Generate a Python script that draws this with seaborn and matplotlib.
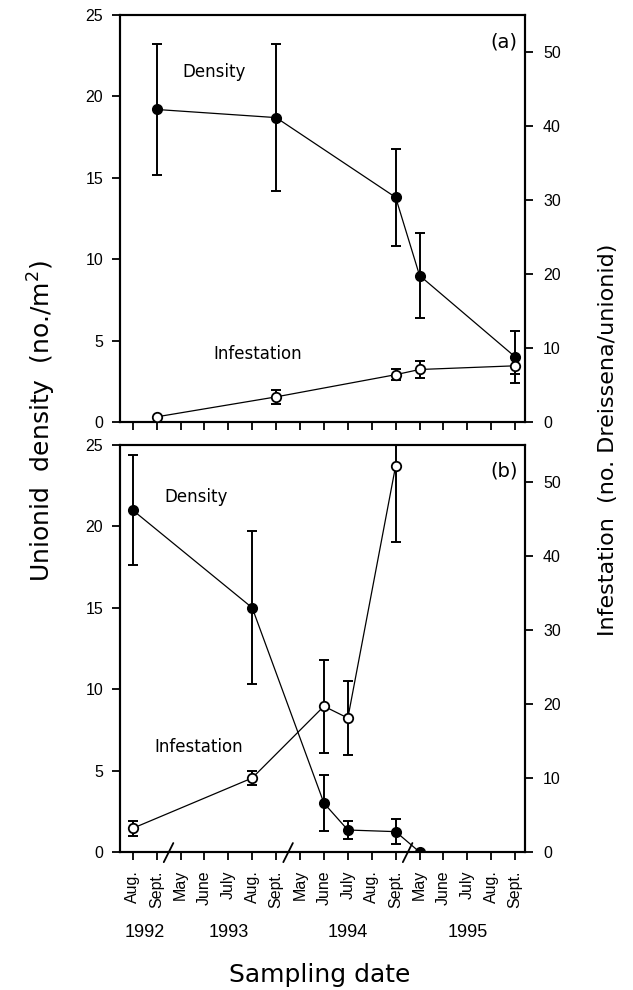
import numpy as np
import matplotlib
matplotlib.use('Agg')
import matplotlib.pyplot as plt
import seaborn as sns

sns.set_style('ticks')
plt.rcParams['font.family'] = ['DejaVu Sans']
plt.rcParams['text.color'] = 'black'
plt.rcParams['axes.labelcolor'] = 'black'

# x axis: sampling months, 1992-1995 (breaks between Sept. and May)
months = ['Aug.', 'Sept.', 'May', 'June', 'July', 'Aug.', 'Sept.', 'May', 'June',
          'July', 'Aug.', 'Sept.', 'May', 'June', 'July', 'Aug.', 'Sept.']
years = ['1992', '1993', '1994', '1995']
month_year = [0, 0, 1, 1, 1, 1, 1, 2, 2, 2, 2, 2, 3, 3, 3, 3, 3]

# panel (a)
a_idx = [1, 6, 11, 12, 16]
a_density = [19.2, 18.7, 13.8, 9.0, 4.0]
a_density_err = [4.0, 4.5, 3.0, 2.6, 1.6]
a_infest = [0.7, 3.4, 6.4, 7.1, 7.6]
a_infest_err = [0.0, 0.9, 0.7, 1.1, 1.1]

# panel (b)
b_idx = [0, 5, 8, 9, 11, 12]
b_density = [21.0, 15.0, 3.0, 1.35, 1.25, 0.0]
b_density_err = [3.4, 4.7, 1.7, 0.57, 0.78, 0.0]
b_infest_idx = [0, 5, 8, 9, 11]
b_infest = [3.2, 10.0, 19.7, 18.1, 52.2]
b_infest_err = [1.0, 1.0, 6.3, 5.0, 10.3]

TICK_FONT = 'Liberation Sans'


def err_plot(ax, x, y, e):
    x, y, e = np.asarray(x), np.asarray(y), np.asarray(e)
    m = e > 0
    ax.errorbar(x[m], y[m], yerr=e[m], fmt='none', ecolor='k', elinewidth=1.4,
                capsize=3.6, capthick=1.4, zorder=1.5)


def style_axis(ax):
    for s in ax.spines.values():
        s.set_linewidth(1.5)
        s.set_color('k')
    ax.tick_params(direction='out', length=6, width=1.3, colors='k', labelsize=11.5)
    for lab in ax.get_yticklabels():
        lab.set_fontfamily(TICK_FONT)


def panel(ax, idx, dens, dens_err, inf_idx, inf, inf_err, tag, dens_xy, inf_xy):
    err_plot(ax, idx, dens, dens_err)
    sns.lineplot(x=idx, y=dens, ax=ax, color='k', lw=0.9, marker='o', markersize=6.8,
                 markerfacecolor='k', markeredgecolor='k', markeredgewidth=1.2, zorder=3)
    ax.set_xlim(-0.53, 16.41)
    ax.set_ylim(0, 25)
    ax.set_yticks(range(0, 26, 5))
    ax.set_xticks(range(len(months)))
    ax.set_ylabel('')
    ax.set_xlabel('')

    ax2 = ax.twinx()
    err_plot(ax2, inf_idx, inf, inf_err)
    sns.lineplot(x=inf_idx, y=inf, ax=ax2, color='k', lw=0.9, marker='o', markersize=6.8,
                 markerfacecolor='white', markeredgecolor='k', markeredgewidth=1.3, zorder=3)
    ax2.set_ylim(0, 55)
    ax2.set_yticks(range(0, 51, 10))
    ax2.set_ylabel('')

    style_axis(ax)
    style_axis(ax2)
    ax.tick_params(axis='y', pad=6)
    ax2.tick_params(axis='y', pad=7)

    ax.text(0.948, 0.935, tag, transform=ax.transAxes, ha='center', va='center', fontsize=14)
    ax.text(dens_xy[0], dens_xy[1], 'Density', ha='center', va='center', fontsize=12)
    ax.text(inf_xy[0], inf_xy[1], 'Infestation', ha='center', va='center', fontsize=12)
    return ax2


fig = plt.figure(figsize=(6.33, 9.9), dpi=100)
ax_a = fig.add_axes([0.1896, 0.5737, 0.6398, 0.4111])
ax_b = fig.add_axes([0.1896, 0.1394, 0.6398, 0.4111])

panel(ax_a, a_idx, a_density, a_density_err, a_idx, a_infest, a_infest_err,
      '(a)', (3.42, 21.5), (5.24, 4.15))
panel(ax_b, b_idx, b_density, b_density_err, b_infest_idx, b_infest, b_infest_err,
      '(b)', (2.63, 21.8), (2.75, 6.45))

ax_a.set_xticklabels([])
ax_b.set_xticklabels(months, rotation=90, fontsize=11.5, fontfamily=TICK_FONT)
ax_b.tick_params(axis='x', pad=7)

# year row
xt = ax_b.get_xaxis_transform()
for k, yr in enumerate(years):
    pos = np.mean([i for i, y in enumerate(month_year) if y == k])
    ax_b.text(pos, -0.199, yr, transform=xt, ha='center', va='center',
              fontsize=13, fontfamily=TICK_FONT)

# axis breaks on bottom panel
breaks = [i + 0.5 for i in range(len(months) - 1)
          if months[i] == 'Sept.' and months[i + 1] == 'May']
for b in breaks:
    ax_b.plot([b - 0.2, b + 0.2], [-0.025, 0.022], transform=xt, color='k',
              lw=1.3, clip_on=False, zorder=5)

fig.text(42 / 633, 1 - 421 / 990, 'Unionid  density  (no./m$^{2}$)', rotation=90,
         ha='center', va='center', fontsize=18)
fig.text(608 / 633, 1 - 440 / 990, 'Infestation  (no. Dreissena/unionid)', rotation=90,
         ha='center', va='center', fontsize=16)
fig.text(320 / 633, 1 - 975 / 990, 'Sampling date', ha='center', va='center', fontsize=18)

fig.savefig('out.png', dpi=100)
